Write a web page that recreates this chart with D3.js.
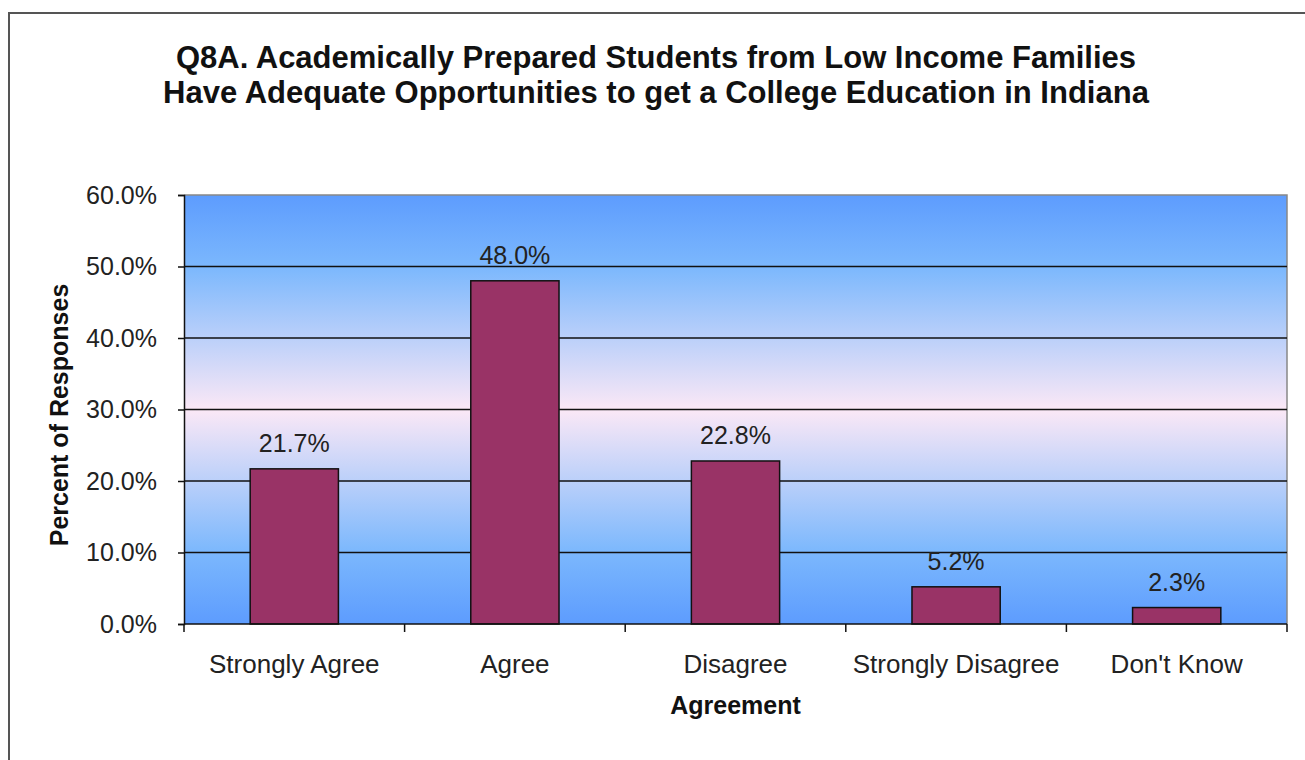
<!DOCTYPE html>
<html lang="en">
<head>
  <meta charset="UTF-8">
  <title>Q8A Agreement</title>
  <script src="https://d3js.org/d3.v7.min.js"></script>
  <style>
    body { margin: 0; background: #fff; }
    svg { display: block; font-family: "Liberation Sans", Arial, sans-serif; }
  </style>
</head>
<body>
  <svg width="1305" height="760"></svg>

  <script>
    const categories = ["Strongly Agree", "Agree", "Disagree", "Strongly Disagree", "Don't Know"];
    const values = [21.7, 48.0, 22.8, 5.2, 2.3];
    const yTicks = [0, 10, 20, 30, 40, 50, 60];
    const titleLines = [
      "Q8A. Academically Prepared Students from Low Income Families",
      "Have Adequate Opportunities to get a College Education in Indiana"
    ];

    const svg = d3.select("svg");
    const m = { left: 184, right: 1287, top: 195, bottom: 624 };
    const textColor = "#222";

    // outer chart border (only top and left visible in the crop)
    svg.append("path")
      .attr("d", "M9,760 L9,13 L1305,13")
      .attr("fill", "none")
      .attr("stroke", "#555")
      .attr("stroke-width", 2);

    // gradient for plot area
    const grad = svg.append("defs").append("linearGradient")
      .attr("id", "bg").attr("x1", 0).attr("y1", 0).attr("x2", 0).attr("y2", 1);
    [[0, "#5d9cfe"], [0.17, "#7cb8fd"], [0.5, "#fbe8f6"], [0.83, "#7cb8fd"], [1, "#5d9cfe"]]
      .forEach(s => grad.append("stop").attr("offset", s[0]).attr("stop-color", s[1]));

    const x = d3.scaleBand().domain(categories).range([m.left, m.right]).paddingInner(0.6).paddingOuter(0.3);
    const y = d3.scaleLinear().domain([0, 60]).range([m.bottom, m.top]);

    svg.append("rect")
      .attr("x", m.left).attr("y", m.top)
      .attr("width", m.right - m.left).attr("height", m.bottom - m.top)
      .attr("fill", "url(#bg)");

    // plot border top and right
    svg.append("path")
      .attr("d", `M${m.left},${m.top} L${m.right},${m.top} L${m.right},${m.bottom}`)
      .attr("fill", "none").attr("stroke", "#888").attr("stroke-width", 1.5);

    // gridlines
    svg.append("g").selectAll("line")
      .data(yTicks.filter(d => d > 0 && d < 60))
      .join("line")
      .attr("x1", m.left).attr("x2", m.right)
      .attr("y1", d => y(d)).attr("y2", d => y(d))
      .attr("stroke", "#111").attr("stroke-width", 1.5);

    // bars
    svg.append("g").selectAll("rect")
      .data(values)
      .join("rect")
      .attr("x", (d, i) => x(categories[i]))
      .attr("y", d => y(d))
      .attr("width", x.bandwidth())
      .attr("height", d => y(0) - y(d))
      .attr("fill", "#993366")
      .attr("stroke", "#111")
      .attr("stroke-width", 1.5);

    // value labels
    svg.append("g").selectAll("text")
      .data(values)
      .join("text")
      .attr("x", (d, i) => x(categories[i]) + x.bandwidth() / 2)
      .attr("y", d => y(d) - 17)
      .attr("text-anchor", "middle")
      .attr("font-size", 25)
      .attr("fill", textColor)
      .text(d => d.toFixed(1) + "%");

    // y axis
    const yAxis = svg.append("g")
      .attr("transform", `translate(${m.left},0)`)
      .call(d3.axisLeft(y).tickValues(yTicks).tickSize(6).tickPadding(21)
        .tickFormat(d => d.toFixed(1) + "%"));
    yAxis.selectAll("text")
      .attr("font-size", 25)
      .attr("font-family", "Liberation Sans, Arial, sans-serif")
      .attr("fill", textColor);
    yAxis.selectAll("line, path").attr("stroke", "#111").attr("stroke-width", 1.5);

    // x axis, ticks at category boundaries
    const step = x.step();
    const boundaries = d3.range(categories.length + 1).map(i => m.left + i * step);
    svg.append("line")
      .attr("x1", m.left).attr("x2", m.right)
      .attr("y1", m.bottom).attr("y2", m.bottom)
      .attr("stroke", "#111").attr("stroke-width", 1.5);
    svg.append("g").selectAll("line")
      .data(boundaries)
      .join("line")
      .attr("x1", d => d).attr("x2", d => d)
      .attr("y1", m.bottom).attr("y2", m.bottom + 8)
      .attr("stroke", "#111").attr("stroke-width", 1.5);
    svg.append("g").selectAll("text")
      .data(categories)
      .join("text")
      .attr("x", d => x(d) + x.bandwidth() / 2)
      .attr("y", m.bottom + 49)
      .attr("text-anchor", "middle")
      .attr("font-size", 26)
      .attr("fill", textColor)
      .text(d => d);

    // axis titles
    svg.append("text")
      .attr("x", (m.left + m.right) / 2).attr("y", 714)
      .attr("text-anchor", "middle")
      .attr("font-size", 25).attr("font-weight", "bold")
      .attr("fill", "#111")
      .text("Agreement");
    svg.append("text")
      .attr("transform", "translate(68,415) rotate(-90)")
      .attr("text-anchor", "middle")
      .attr("font-size", 25).attr("font-weight", "bold")
      .attr("fill", "#111")
      .text("Percent of Responses");

    // title
    svg.append("g").selectAll("text")
      .data(titleLines)
      .join("text")
      .attr("x", 656)
      .attr("y", (d, i) => 68 + i * 35)
      .attr("text-anchor", "middle")
      .attr("font-size", 31).attr("font-weight", "bold")
      .attr("fill", "#111")
      .text(d => d);
  </script>
</body>
</html>
